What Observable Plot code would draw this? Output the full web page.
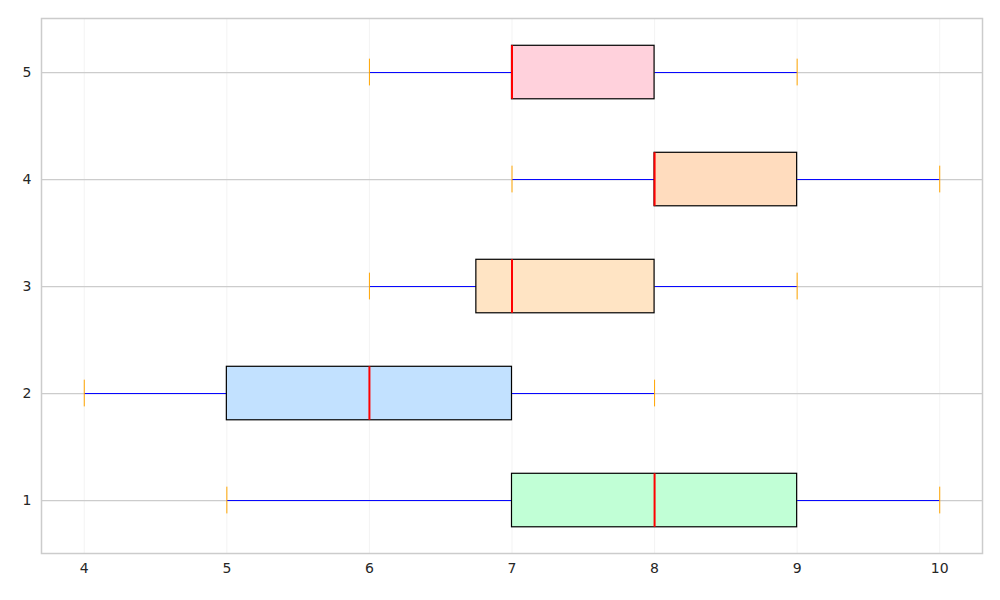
<!DOCTYPE html>
<html><head><meta charset="utf-8">
<script src="https://cdn.jsdelivr.net/npm/d3@7"></script>
<script src="https://cdn.jsdelivr.net/npm/@observablehq/plot@0.6"></script>
<style>body{margin:0;background:#fff;font-family:"DejaVu Sans",sans-serif}</style>
</head><body><div id="chart"></div>
<script>
const categories = [1, 2, 3, 4, 5];
const whiskerLow = [5, 4, 6, 7, 6];
const q1 = [7, 5, 6.75, 8, 7];
const median = [8, 6, 7, 8, 7];
const q3 = [9, 7, 8, 9, 8];
const whiskerHigh = [10, 8, 9, 10, 9];
const fills = ["#c1ffd6", "#c2e1ff", "#ffe4c4", "#ffdcbe", "#ffd1dc"];
const xTicks = [4, 5, 6, 7, 8, 9, 10];

const data = categories.map((c, i) => ({c, lo: whiskerLow[i], q1: q1[i], med: median[i], q3: q3[i], hi: whiskerHigh[i], fill: fills[i]}));
const hb = 0.25, cap = 0.125;

const plot = Plot.plot({
  width: 1000, height: 600,
  marginLeft: 41, marginRight: 18, marginTop: 18, marginBottom: 47,
  style: {fontSize: "14px", fontFamily: "DejaVu Sans, sans-serif", color: "#262626"},
  x: {domain: [3.7, 10.3], ticks: xTicks, tickFormat: d => d, label: null, tickSize: 0, tickPadding: 10},
  y: {domain: [0.505, 5.505], ticks: categories, tickFormat: d => d, label: null, tickSize: 0, tickPadding: 10},
  marks: [
    Plot.ruleX(xTicks, {stroke: "#ebebeb", strokeWidth: 0.6}),
    Plot.ruleY(categories, {stroke: "#cccccc", strokeWidth: 1.2}),
    Plot.link(data, {x1: "lo", x2: "q1", y1: "c", y2: "c", stroke: "blue"}),
    Plot.link(data, {x1: "q3", x2: "hi", y1: "c", y2: "c", stroke: "blue"}),
    Plot.ruleX(data, {x: "lo", y1: d => d.c - cap, y2: d => d.c + cap, stroke: "orange"}),
    Plot.ruleX(data, {x: "hi", y1: d => d.c - cap, y2: d => d.c + cap, stroke: "orange"}),
    Plot.rect(data, {x1: "q1", x2: "q3", y1: d => d.c - hb, y2: d => d.c + hb, fill: "fill", stroke: "black", strokeWidth: 1.2}),
    Plot.ruleX(data, {x: "med", y1: d => d.c - hb, y2: d => d.c + hb, stroke: "red", strokeWidth: 2}),
    Plot.frame({stroke: "#cccccc", strokeWidth: 1.5})
  ]
});
document.getElementById("chart").append(plot);
</script></body></html>
